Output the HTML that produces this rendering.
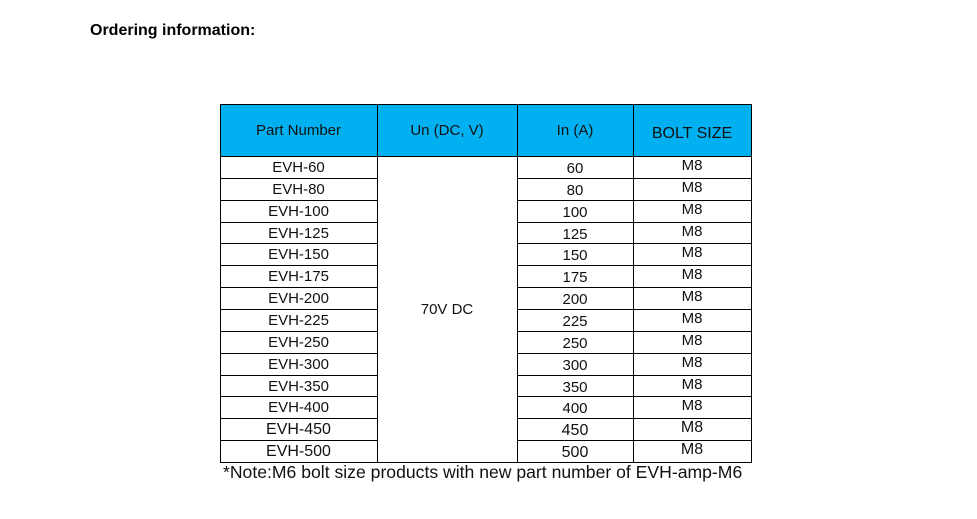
<!DOCTYPE html>
<html><head><style>
body{margin:0;width:977px;height:519px;background:#fff;font-family:"Liberation Sans",Arial,sans-serif;position:relative;overflow:hidden}
.a{position:absolute}
.h{background:#00b0f0}
.c{position:absolute;text-align:center;font-size:15px;color:#111}
.l{position:absolute;background:#000}
</style></head><body>
<div class="a" style="left:90px;top:22px;font-size:16px;font-weight:bold;color:#000">Ordering information:</div>
<div class="a h" style="left:220px;top:104px;width:531px;height:52px"></div>
<div id="t"></div>
<div class="a" style="left:223px;top:462px;font-size:17.6px;color:#111">*Note:M6 bolt size products with new part number of EVH-amp-M6</div>
<script>
var t=document.getElementById('t'),h='';
function L(x,y,w,hh){h+='<div class="l" style="left:'+x+'px;top:'+y+'px;width:'+w+'px;height:'+hh+'px"></div>';}
function C(x,y,w,s,fs){h+='<div class="c" style="left:'+x+'px;top:'+y+'px;width:'+w+'px;font-size:'+(fs||15)+'px">'+s+'</div>';}
var cols=[220,377,517,633,751];
L(220,104,532,1);L(220,156,532,1);L(220,462,532,1);
cols.forEach(function(x){L(x,104,1,359);});
C(220,122,157,'Part Number');C(377,122,140,'Un (DC, V)');C(517,122,116,'In (A)');C(633,125,118,'BOLT SIZE',16);
var v=[60,80,100,125,150,175,200,225,250,300,350,400,450,500];
var rh=(462-156)/14;
for(var i=0;i<14;i++){var y=156+i*rh;
 if(i>0){L(220,Math.round(y),157,1);L(517,Math.round(y),235,1);}
 var fs=i>=12?16:15;
 C(220,y+3,157,'EVH-'+v[i],fs);C(517,y+4,116,v[i],fs);C(633,y+1,118,'M8',fs);}
C(377,301,140,'70V DC');
t.innerHTML=h;
</script>
</body></html>
